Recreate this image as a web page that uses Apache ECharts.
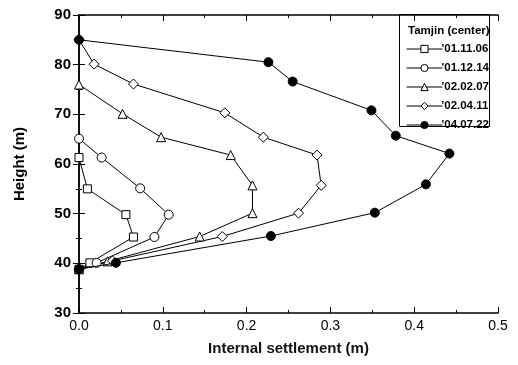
<!DOCTYPE html>
<html><head><meta charset="utf-8">
<script src="https://cdn.jsdelivr.net/npm/echarts@6/dist/echarts.min.js"></script>
<style>html,body{margin:0;padding:0;background:#fff}#c{width:518px;height:365px}</style>
</head><body><div id="c"></div>
<script>
const seriesNames = ["'01.11.06", "'01.12.14", "'02.02.07", "'02.04.11", "'04.07.22"];
const s1X = [0, 0.010, 0.056, 0.065, 0.013, 0];
const s1Y = [61.3, 55.0, 49.8, 45.3, 40.1, 38.8];
const s2X = [0, 0.027, 0.073, 0.107, 0.090, 0.021, 0];
const s2Y = [65.1, 61.3, 55.1, 49.8, 45.3, 40.1, 38.8];
const s3X = [0, 0.052, 0.098, 0.181, 0.207, 0.207, 0.144, 0.034, 0];
const s3Y = [76.0, 70.1, 65.4, 61.8, 55.7, 50.1, 45.4, 40.4, 38.8];
const s4X = [0, 0.018, 0.065, 0.174, 0.220, 0.284, 0.289, 0.262, 0.171, 0.040, 0];
const s4Y = [85.0, 80.1, 76.1, 70.3, 65.4, 61.8, 55.7, 50.1, 45.4, 40.5, 38.8];
const s5X = [0, 0.226, 0.255, 0.349, 0.378, 0.442, 0.414, 0.353, 0.229, 0.044, 0];
const s5Y = [85.0, 80.5, 76.6, 70.8, 65.7, 62.1, 55.9, 50.2, 45.5, 40.1, 38.8];
const xTicks = [0, 0.1, 0.2, 0.3, 0.4, 0.5];
const yTicks = [30, 40, 50, 60, 70, 80, 90];
const legendTitle = 'Tamjin (center)';
const xName = 'Internal settlement (m)';
const yName = 'Height (m)';

const xs = [s1X, s2X, s3X, s4X, s5X];
const ys = [s1Y, s2Y, s3Y, s4Y, s5Y];
const symbols = ['rect', 'circle', 'triangle', 'diamond', 'circle'];
const sizes = [8, 9, 9, 10, 9];
const fills = ['#fff', '#fff', '#fff', '#fff', '#000'];
const FONT = 'Liberation Sans, Arial, sans-serif';

const chart = echarts.init(document.getElementById('c'), null, {renderer: 'canvas'});
const axisCommon = {
  axisLine: {show: true, lineStyle: {color: '#000', width: 1.5}},
  axisTick: {show: true, inside: true, length: 6, lineStyle: {color: '#000', width: 1}},
  minorTick: {show: true, splitNumber: 2, length: 3, lineStyle: {color: '#000'}},
  splitLine: {show: false}
};
chart.setOption({
  animation: false,
  grid: {left: 79, right: 20, top: 15, bottom: 52, containLabel: false},
  xAxis: [
    Object.assign({type: 'value', min: xTicks[0], max: xTicks[xTicks.length-1], interval: 0.1,
      name: xName, nameLocation: 'middle', nameGap: 28,
      nameTextStyle: {fontFamily: FONT, fontSize: 15, fontWeight: 'bold', color: '#111'},
      axisLabel: {fontFamily: FONT, fontSize: 14, color: '#000', margin: 6, formatter: v => v.toFixed(1)}
    }, axisCommon),
    Object.assign({type: 'value', position: 'top', min: 0, max: 0.5, interval: 0.1,
      axisLabel: {show: false}}, axisCommon)
  ],
  yAxis: [
    Object.assign({type: 'value', min: yTicks[0], max: yTicks[yTicks.length-1], interval: 10,
      name: yName, nameLocation: 'middle', nameGap: 52,
      nameTextStyle: {fontFamily: FONT, fontSize: 15, fontWeight: 'bold', color: '#000'},
      axisLabel: {fontFamily: FONT, fontSize: 15, fontWeight: 'bold', color: '#000', margin: 8}
    }, axisCommon),
    Object.assign({type: 'value', position: 'right', min: 30, max: 90, interval: 10,
      axisLabel: {show: false}}, axisCommon)
  ],
  legend: {
    show: true, orient: 'vertical', left: 401, top: 38,
    itemWidth: 36, itemHeight: 9, itemGap: 7,
    itemStyle: {borderWidth: 1},
    lineStyle: {width: 1},
    textStyle: {fontFamily: FONT, fontSize: 11.5, fontWeight: 'bold', color: '#000', padding: [0,0,0,-6]},
    data: seriesNames
  },
  graphic: [
    {type: 'rect', shape: {x: 399.5, y: 14.5, width: 90, height: 112}, style: {fill: '#fff', stroke: '#000', lineWidth: 1}, z: 0, zlevel: 0},
    {type: 'text', x: 408, y: 25, style: {text: legendTitle, font: 'bold 11.5px ' + FONT, fill: '#000'}, z: 100}
  ],
  series: seriesNames.map((n, i) => ({
    name: n, type: 'line',
    data: xs[i].map((x, j) => [x, ys[i][j]]),
    symbol: symbols[i], symbolSize: sizes[i], showAllSymbol: true,
    lineStyle: {color: '#000', width: 1},
    itemStyle: {color: fills[i], borderColor: '#000', borderWidth: 1},
    z: 2 + (i === 4 ? 5 : 0)
  }))
});
</script></body></html>
